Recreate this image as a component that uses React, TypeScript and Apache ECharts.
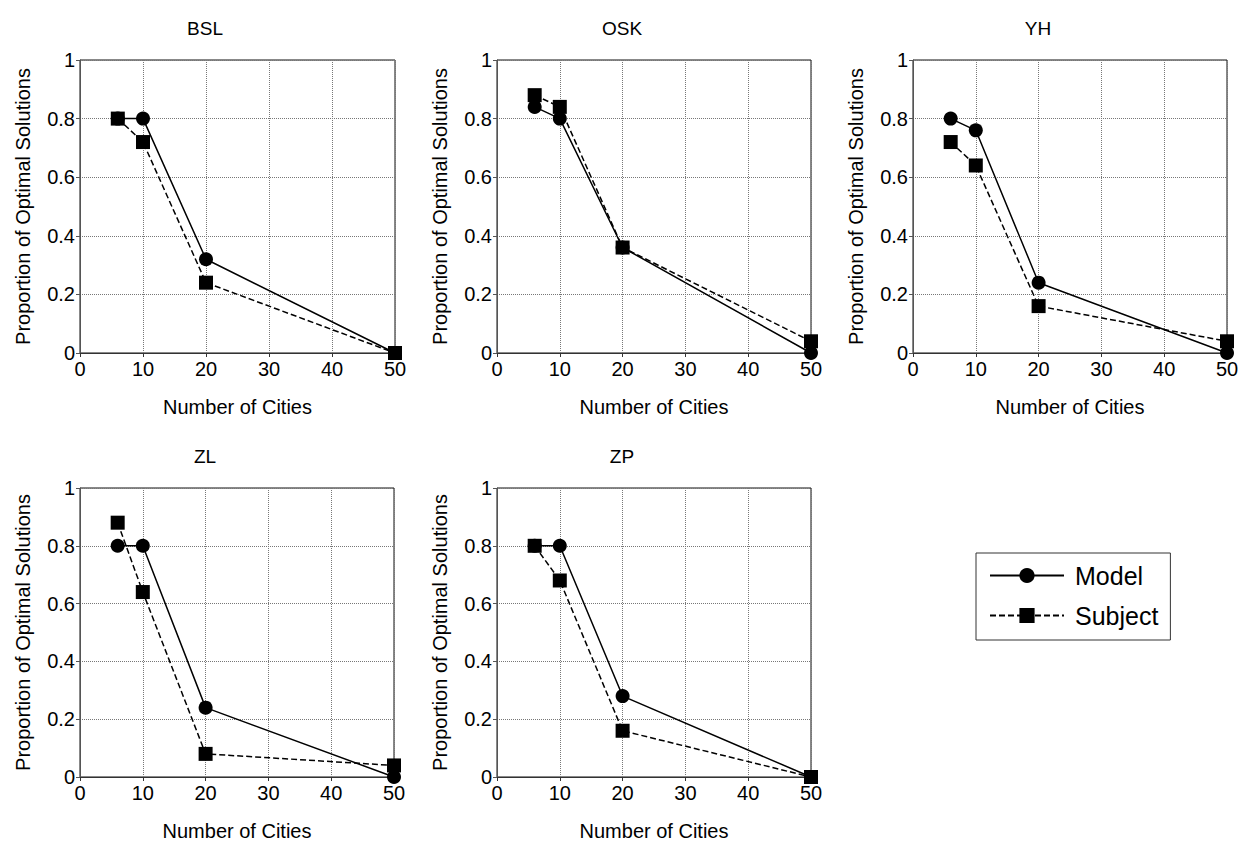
import React, { useEffect, useRef } from "react";
import * as echarts from "echarts";

const cities = [6, 10, 20, 50];
const panels = ["BSL", "OSK", "YH", "ZL", "ZP"];
const modelValues = [
  [0.8, 0.8, 0.32, 0],
  [0.84, 0.8, 0.36, 0],
  [0.8, 0.76, 0.24, 0],
  [0.8, 0.8, 0.24, 0],
  [0.8, 0.8, 0.28, 0],
];
const subjectValues = [
  [0.8, 0.72, 0.24, 0],
  [0.88, 0.84, 0.36, 0.04],
  [0.72, 0.64, 0.16, 0.04],
  [0.88, 0.64, 0.08, 0.04],
  [0.8, 0.68, 0.16, 0],
];
const xTicks = [0, 10, 20, 30, 40, 50];
const yTicks = [0, 0.2, 0.4, 0.6, 0.8, 1];
const xName = "Number of Cities";
const yName = "Proportion of Optimal Solutions";
const seriesNames = ["Model", "Subject"];

const FONT = 'Arial, "Liberation Sans", sans-serif';

const gridBoxes = [
  { left: 80, top: 60, width: 315, height: 293 },
  { left: 497, top: 60, width: 314, height: 293 },
  { left: 913, top: 60, width: 314, height: 293 },
  { left: 80, top: 488, width: 314, height: 292 },
  { left: 497, top: 488, width: 314, height: 292 },
];

export default function App() {
  const ref = useRef<HTMLDivElement>(null);
  useEffect(() => {
    if (!ref.current) return;
    const chart = echarts.init(ref.current, undefined, { renderer: "svg" });
    const grids = gridBoxes.map((g) => ({
      ...g,
      show: true,
      borderColor: "#111",
      borderWidth: 1,
      backgroundColor: "transparent",
      containLabel: false,
    }));
    const xAxes = gridBoxes.map((_, i) => ({
      type: "value",
      gridIndex: i,
      min: xTicks[0],
      max: xTicks[xTicks.length - 1],
      interval: 10,
      name: xName,
      nameLocation: "middle",
      nameGap: 44,
      nameTextStyle: { fontSize: 20, color: "#000", fontFamily: FONT },
      axisLine: { show: true, lineStyle: { color: "#333", width: 1 } },
      axisTick: { show: true, length: 4, lineStyle: { color: "#333" } },
      axisLabel: { fontSize: 20, color: "#000", fontFamily: FONT, margin: 6 },
      splitLine: { show: true, lineStyle: { color: "#777", type: "dotted", width: 1 } },
    }));
    const yAxes = gridBoxes.map((_, i) => ({
      type: "value",
      gridIndex: i,
      min: yTicks[0],
      max: yTicks[yTicks.length - 1],
      interval: 0.2,
      name: yName,
      nameLocation: "middle",
      nameRotate: 90,
      nameGap: 47,
      nameTextStyle: { fontSize: 20, color: "#000", fontFamily: FONT },
      axisLine: { show: true, lineStyle: { color: "#555", width: 1 } },
      axisTick: { show: true, length: 4, lineStyle: { color: "#555" } },
      axisLabel: { fontSize: 20, color: "#000", fontFamily: FONT, margin: 5 },
      splitLine: { show: true, lineStyle: { color: "#777", type: "dotted", width: 1 } },
    }));
    const series: any[] = [];
    panels.forEach((_, i) => {
      series.push({
        type: "line",
        name: seriesNames[0],
        xAxisIndex: i,
        yAxisIndex: i,
        data: cities.map((c, k) => [c, modelValues[i][k]]),
        symbol: "circle",
        symbolSize: 14,
        itemStyle: { color: "#000" },
        lineStyle: { color: "#000", width: 1.5, type: "solid" },
        z: 3,
      });
      series.push({
        type: "line",
        name: seriesNames[1],
        xAxisIndex: i,
        yAxisIndex: i,
        data: cities.map((c, k) => [c, subjectValues[i][k]]),
        symbol: "rect",
        symbolSize: 14,
        itemStyle: { color: "#000" },
        lineStyle: { color: "#000", width: 1.5, type: [6, 3] },
        z: 4,
      });
    });
    const titles = panels.map((p, i) => ({
      type: "text",
      x: gridBoxes[i].left + 125,
      y: gridBoxes[i].top - 32,
      style: {
        text: p,
        font: `19px ${FONT}`,
        fill: "#000",
        align: "center",
        verticalAlign: "middle",
        textAlign: "center",
        textVerticalAlign: "middle",
      },
    }));
    chart.setOption({
      animation: false,
      backgroundColor: "#fff",
      grid: grids,
      xAxis: xAxes,
      yAxis: yAxes,
      series,
      graphic: titles,
      legend: {
        data: seriesNames,
        orient: "vertical",
        left: 976,
        top: 553,
        width: 191,
        padding: [10, 12, 12, 13],
        itemWidth: 74,
        itemHeight: 19,
        itemGap: 15,
        borderColor: "#333",
        borderWidth: 1,
        backgroundColor: "#fff",
        textStyle: { fontSize: 25, color: "#000", fontFamily: FONT, padding: [0, 0, 0, 6] },
      },
    });
    return () => chart.dispose();
  }, []);
  return (
    <div
      ref={ref}
      style={{ position: "fixed", left: 0, top: 0, width: 1243, height: 842, background: "#fff" }}
    />
  );
}
